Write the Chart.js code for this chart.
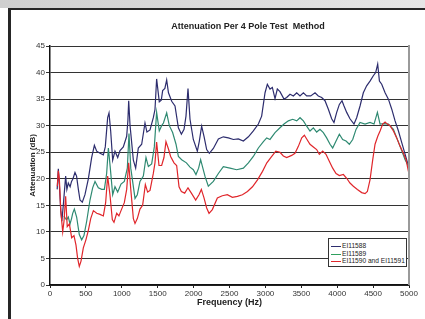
<!DOCTYPE html>
<html>
<head>
<meta charset="utf-8">
<script src="https://cdn.jsdelivr.net/npm/chart.js@4"></script>
<style>
  body{margin:0;width:425px;height:319px;overflow:hidden;background:#fff;font-family:"Liberation Sans",Arial,sans-serif;position:relative}
  #band{position:absolute;left:0;top:0;width:425px;height:8px;background:linear-gradient(to right,#cfcfcf,#e6e6e6)}
  #frame{position:absolute;left:8px;top:8px;width:420px;height:320px;border-left:3px solid #262626;border-top:2px solid #262626;box-sizing:border-box}
  #myChart{position:absolute;left:0;top:0}
  #title{position:absolute;left:98px;width:300px;top:21px;text-align:center;font-weight:bold;font-size:9px;color:#222;white-space:pre}
  #legend{position:absolute;left:328px;top:238px;width:79px;height:29px;border:1px solid #333;background:#fff;box-sizing:border-box;font-size:6.6px;color:#222}
  #legend div{position:absolute;left:2px;white-space:nowrap;line-height:7px}
  #legend span{display:inline-block;width:10px;height:0;border-top:1.5px solid;vertical-align:middle;margin-right:1px}
</style>
</head>
<body>
<div id="band"></div>
<div id="frame"></div>
<canvas id="myChart" width="425" height="319"></canvas>
<div id="title">Attenuation Per 4 Pole Test  Method</div>
<div id="legend">
  <div style="top:3px"><span style="border-color:#2d2d6e"></span>EI11588</div>
  <div style="top:11px"><span style="border-color:#2fa05e"></span>EI11589</div>
  <div style="top:18px"><span style="border-color:#e0262b"></span>EI11590 and EI11591</div>
</div>
<script>
// EI11588
const freq588=[100,116,130,150,165,185,218,235,255,280,300,320,348,370,395,418,450,487,534,580,618,650,697,743,770,803,822,845,873,905,943,975,1021,1068,1085,1096,1115,1161,1193,1230,1277,1323,1350,1393,1439,1462,1485,1522,1550,1569,1600,1625,1650,1695,1741,1788,1830,1867,1894,1922,1950,1996,2052,2080,2112,2145,2182,2219,2275,2345,2414,2484,2554,2623,2693,2763,2832,2902,2948,2995,3027,3064,3097,3134,3166,3203,3259,3296,3343,3389,3436,3482,3529,3575,3631,3691,3737,3784,3830,3877,3923,3955,3993,4030,4067,4095,4132,4178,4234,4271,4318,4364,4410,4457,4503,4536,4564,4588,4620,4667,4713,4760,4806,4853,4899,4946,4992,5000]
const att588=[18,21.9,19,14,12,15,20.5,18,19.2,18.5,19.5,20,21.2,20.5,18,16,15.6,17,20,24,26.3,25.2,24.8,24.5,26,31.5,32.4,29,23.5,25.2,24,25.3,26,28,31,34.7,30,23.5,22,25.8,26.5,30.5,28.8,29.2,31.5,33,38.8,34.5,34.8,36.6,37,38.6,36.2,34.6,33.7,29.6,28.4,29.3,31.8,37,31.2,27.4,25.2,27.1,29.9,28,25.5,24.8,25.7,27.5,27.9,27.7,27.4,27.5,27.1,27.9,29,30.3,31.8,36.2,37.8,36.9,37.2,35.1,36.9,36.4,35,35.3,35.9,35.6,36.2,35.6,36.2,35.6,35.6,36.2,35.6,35.3,34.7,33.1,31.3,30.6,32.5,34,34.7,33.7,32.5,31.3,30.3,31.5,33.7,36.2,37.5,38.4,39.4,40,41.6,38.4,37.8,36.2,35,33.1,30.9,29,26.8,24.6,22.4,22]

// EI11589
const freq589=[195,215,232,255,279,300,316,339,371,408,441,473,511,557,594,627,673,720,757,789,813,840,873,905,943,989,1035,1077,1100,1125,1184,1216,1253,1300,1337,1370,1416,1453,1485,1522,1555,1580,1625,1662,1708,1755,1788,1834,1900,1950,1996,2033,2070,2098,2160,2205,2275,2345,2414,2507,2600,2693,2763,2832,2902,2972,3018,3064,3134,3203,3259,3320,3380,3436,3482,3529,3575,3621,3668,3714,3760,3807,3853,3900,3937,3984,4030,4076,4123,4169,4216,4262,4318,4388,4457,4513,4560,4597,4652,4713,4783,4829,4885,4946,4992,5000]
const att589=[13,12.5,12.3,12.8,11.5,12.5,13.5,14.3,12.8,9.5,8.5,9.3,12,16,18.3,19.5,18.3,18,18,21,25.8,22,17,18.5,17.5,19,19.5,22,28.5,22,16.3,17,19.5,20.5,24,22.3,22.8,26,32.5,29,30,30.5,32.4,30,28.7,26.5,24.2,23.6,23,22.2,21.7,20.8,22,23.6,20.4,18.6,19.5,21,22.3,22,21.7,22,23,24.2,25.8,27,27.7,27.4,28.7,29.6,30.3,30.9,31.2,30.9,31.5,30.9,29.9,29,29.6,28.8,29.3,28.7,27.7,26.5,25.8,27.1,28.4,27.4,27.1,26.5,27.4,29.3,30.6,30.3,30.6,30.3,32.5,30.3,30.4,30.3,29.3,27.7,25.8,23.6,22.4,22]

// EI11590 and EI11591
const freq590=[102,116,130,150,177,195,218,240,270,302,334,362,385,408,432,464,500,534,567,604,650,697,743,775,803,835,868,891,929,960,989,1035,1068,1096,1125,1161,1184,1216,1253,1290,1328,1360,1393,1439,1462,1485,1518,1555,1587,1615,1650,1680,1727,1764,1797,1830,1876,1922,1969,2029,2075,2108,2145,2182,2215,2261,2331,2400,2470,2540,2610,2680,2750,2820,2890,2960,3020,3075,3145,3203,3250,3296,3366,3412,3459,3506,3543,3575,3621,3668,3714,3751,3798,3844,3890,3937,3984,4030,4086,4132,4178,4225,4281,4341,4388,4420,4457,4495,4527,4565,4597,4634,4667,4699,4736,4783,4829,4876,4922,4959,4992,5000]
const att590=[18.6,21.5,20,14,10,12,16.7,11,11.5,8.9,9.3,7.5,5,3.5,4.5,7,8.5,10.3,12.5,14,13.5,13.3,13,15.5,20.5,17,12.3,11.8,13.5,13,14,15.5,18,23,18,12.5,11.6,12.5,14.3,15,18.9,17.5,17.8,21,23,26.9,22.5,22.5,24,27,25.6,24.2,23,22.5,18.5,17.6,17.3,18.3,17.3,16,17,18,16.4,14.5,13.5,14.2,16.4,16.8,17,16.5,16.7,17,17.6,18.5,19.8,21.4,23,24,25.2,25,24.3,24,24.4,24.8,26.1,27.7,28.2,27.5,26.5,26,25.5,24.6,25.2,24.6,23.3,22,21,20.6,20.8,20.1,19.2,18.6,18,17.4,17.2,17.6,19.8,23.6,26.5,28,29,30.3,30.7,30.3,30,29,27.7,26.1,24.8,23.6,21.4,21]

const xTicks=[0,500,1000,1500,2000,2500,3000,3500,4000,4500,5000]
const yTicks=[0,5,10,15,20,25,30,35,40,45]

function pts(fx,fy){
    let d=[]
    for(let i=0;i<fx.length;i++) d.push({x:fx[i],y:fy[i]})
    return d
}

const font='"Liberation Sans", Arial, sans-serif'

// gray right border of the plot
const rightBorder={
    id:'rightBorder',
    afterDraw(chart){
        const a=chart.chartArea, c=chart.ctx
        c.save()
        c.strokeStyle='#9a9a9a'
        c.lineWidth=2
        c.beginPath()
        c.moveTo(a.right,a.top-1)
        c.lineTo(a.right,a.bottom)
        c.stroke()
        c.restore()
    }
}

var ctx=document.getElementById('myChart').getContext('2d')
var myChart=new Chart(ctx,{
    type:'line',
    data:{
        datasets:[{
            label:'EI11588',
            data:pts(freq588,att588),
            borderColor:'#2d2d6e',
            borderWidth:1.2,
            pointRadius:0,
            order:3
        },{
            label:'EI11589',
            data:pts(freq589,att589),
            borderColor:'#2f8a72',
            borderWidth:1.2,
            pointRadius:0,
            order:2
        },{
            label:'EI11590 and EI11591',
            data:pts(freq590,att590),
            borderColor:'#e0262b',
            borderWidth:1.2,
            pointRadius:0,
            order:1
        }]
    },
    options:{
        responsive:false,
        animation:false,
        layout:{padding:{left:0,right:16,top:46,bottom:0}},
        plugins:{legend:{display:false},title:{display:false},tooltip:{enabled:false}},
        scales:{
            x:{
                type:'linear',
                min:0,max:5000,
                afterBuildTicks(s){s.ticks=xTicks.map(v=>({value:v}))},
                afterFit(s){s.height=34},
                ticks:{color:'#333',font:{family:font,size:8},padding:1,maxRotation:0,autoSkip:false,callback:v=>String(v)},
                grid:{drawOnChartArea:false,color:'#222',tickLength:3},
                border:{color:'#111',width:1.5},
                title:{display:true,text:'Frequency (Hz)',color:'#222',font:{family:font,size:9,weight:'bold'},padding:{top:0,bottom:11}}
            },
            y:{
                min:0,max:45,
                afterBuildTicks(s){s.ticks=yTicks.map(v=>({value:v}))},
                afterFit(s){s.width=50},
                ticks:{color:'#333',font:{family:font,size:8},padding:1,callback:v=>String(v)},
                grid:{color:'#333',lineWidth:1,tickLength:4},
                border:{color:'#111',width:1.5},
                title:{display:true,text:'Attenuation (dB)',color:'#222',font:{family:font,size:8,weight:'bold'},padding:{top:28,bottom:0}}
            }
        }
    },
    plugins:[rightBorder]
})
</script>
</body>
</html>
